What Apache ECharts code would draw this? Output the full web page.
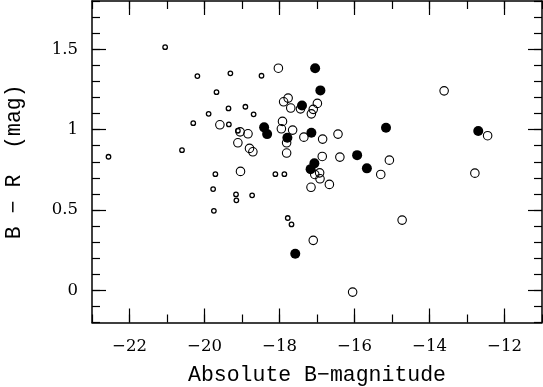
<!DOCTYPE html>
<html>
<head>
<meta charset="utf-8">
<script src="https://cdn.jsdelivr.net/npm/echarts@6.0.0/dist/echarts.min.js"></script>
<style>
  html, body { margin: 0; padding: 0; background: #fff; }
  #chart { width: 543px; height: 387px; }
</style>
</head>
<body>
<div id="chart"></div>
<script>
// axis ranges and ticks
var xMin = -23, xMax = -11;
var yMin = -0.2, yMax = 1.8;
var xMajor = [-22, -20, -18, -16, -14, -12];
var yMajor = [0, 0.5, 1, 1.5];

// small open circles
var smallPts = [
  [-21.05, 1.513], [-20.19, 1.333], [-19.31, 1.350], [-18.48, 1.335],
  [-19.68, 1.233], [-19.36, 1.132], [-18.91, 1.142], [-19.89, 1.098],
  [-18.69, 1.095], [-20.30, 1.040], [-19.35, 1.032], [-19.11, 0.993],
  [-22.56, 0.831], [-20.60, 0.872], [-19.71, 0.723], [-18.11, 0.723],
  [-17.87, 0.723], [-19.77, 0.630], [-19.75, 0.495], [-19.16, 0.597],
  [-19.15, 0.560], [-18.73, 0.591], [-17.78, 0.450], [-17.68, 0.410]
];

// medium open circles
var openPts = [
  [-18.03, 1.382], [-17.77, 1.196], [-17.89, 1.173], [-17.70, 1.134],
  [-17.44, 1.129], [-17.10, 1.126], [-16.99, 1.163], [-17.15, 1.098],
  [-17.92, 1.051], [-17.95, 1.005], [-17.65, 0.997], [-19.59, 1.030],
  [-19.05, 0.986], [-18.84, 0.974], [-19.11, 0.918], [-18.80, 0.883],
  [-18.71, 0.862], [-19.04, 0.740], [-17.81, 0.918], [-17.81, 0.854],
  [-17.35, 0.953], [-16.85, 0.941], [-16.44, 0.972], [-16.86, 0.833],
  [-16.39, 0.829], [-15.07, 0.810], [-15.30, 0.721], [-17.06, 0.721],
  [-16.93, 0.731], [-16.92, 0.694], [-17.16, 0.641], [-16.67, 0.659],
  [-12.79, 0.729], [-14.73, 0.437], [-17.10, 0.311], [-16.05, -0.011],
  [-12.45, 0.962], [-13.61, 1.241]
];

// filled circles
var filledPts = [
  [-17.05, 1.382], [-16.91, 1.244], [-17.40, 1.150], [-18.41, 1.014],
  [-18.33, 0.972], [-17.15, 0.980], [-17.79, 0.949], [-15.16, 1.011],
  [-12.70, 0.991], [-17.07, 0.790], [-17.17, 0.754], [-15.93, 0.841],
  [-15.67, 0.759], [-17.58, 0.228]
];

var NAME_FONT = 'Liberation Mono';
var TICK_FONT = 'DejaVu Serif';
var axisLineStyle = { color: '#000', width: 1.5 };
function minus(v) { return String(v).replace('-', '\u2212'); }

// major = long ticks at the labelled values, minor = short ticks at every step
function xAx(pos, major, label) {
  return {
    type: 'value', min: xMin, max: xMax, position: pos, offset: 0,
    axisLine: { show: major, onZero: false, lineStyle: axisLineStyle },
    axisTick: major
      ? { inside: true, length: 14, customValues: xMajor, lineStyle: { color: '#000', width: 1.2 } }
      : { inside: true, length: 8, lineStyle: { color: '#000', width: 1.2 } },
    interval: major ? undefined : 1,
    axisLabel: label
      ? { show: true, customValues: xMajor, formatter: minus, margin: 16,
          color: '#000', fontFamily: TICK_FONT, fontSize: 16.5 }
      : { show: false },
    splitLine: { show: false }
  };
}
function yAx(pos, major, label) {
  return {
    type: 'value', min: yMin, max: yMax, position: pos, offset: 0,
    axisLine: { show: major, onZero: false, lineStyle: axisLineStyle },
    axisTick: major
      ? { inside: true, length: 14, customValues: yMajor, lineStyle: { color: '#000', width: 1.2 } }
      : { inside: true, length: 8, lineStyle: { color: '#000', width: 1.2 } },
    interval: major ? undefined : 0.1,
    axisLabel: label
      ? { show: true, customValues: yMajor, formatter: minus, margin: 14,
          color: '#000', fontFamily: TICK_FONT, fontSize: 16.5 }
      : { show: false },
    splitLine: { show: false }
  };
}

var xa = [xAx('bottom', true, true), xAx('bottom', false, false), xAx('top', true, false), xAx('top', false, false)];
xa[0].name = 'Absolute B\u2212magnitude';
xa[0].nameLocation = 'middle';
xa[0].nameGap = 42;
xa[0].nameTextStyle = { color: '#000', fontFamily: NAME_FONT, fontSize: 21.5 };

var ya = [yAx('left', true, true), yAx('left', false, false), yAx('right', true, false), yAx('right', false, false)];
ya[0].name = 'B \u2212 R  (mag)';
ya[0].nameLocation = 'middle';
ya[0].nameRotate = 90;
ya[0].nameGap = 67;
ya[0].nameTextStyle = { color: '#000', fontFamily: NAME_FONT, fontSize: 21.5 };

var option = {
  animation: false,
  backgroundColor: '#fff',
  grid: { left: 92, right: 1, top: 1, bottom: 64.5, containLabel: false, outerBoundsMode: 'none' },
  xAxis: xa,
  yAxis: ya,
  series: [
    {
      type: 'scatter', xAxisIndex: 0, yAxisIndex: 0, data: smallPts,
      symbol: 'circle', symbolSize: 4.5,
      itemStyle: { color: 'rgba(0,0,0,0)', borderColor: '#000', borderWidth: 1.3, opacity: 1 }
    },
    {
      type: 'scatter', xAxisIndex: 0, yAxisIndex: 0, data: openPts,
      symbol: 'circle', symbolSize: 8.5,
      itemStyle: { color: 'rgba(0,0,0,0)', borderColor: '#000', borderWidth: 1.1, opacity: 1 }
    },
    {
      type: 'scatter', xAxisIndex: 0, yAxisIndex: 0, data: filledPts,
      symbol: 'circle', symbolSize: 10,
      itemStyle: { color: '#000', borderWidth: 0, opacity: 1 }
    }
  ]
};

var myChart = echarts.init(document.getElementById('chart'), null, { renderer: 'canvas' });
myChart.setOption(option);
</script>
</body>
</html>
